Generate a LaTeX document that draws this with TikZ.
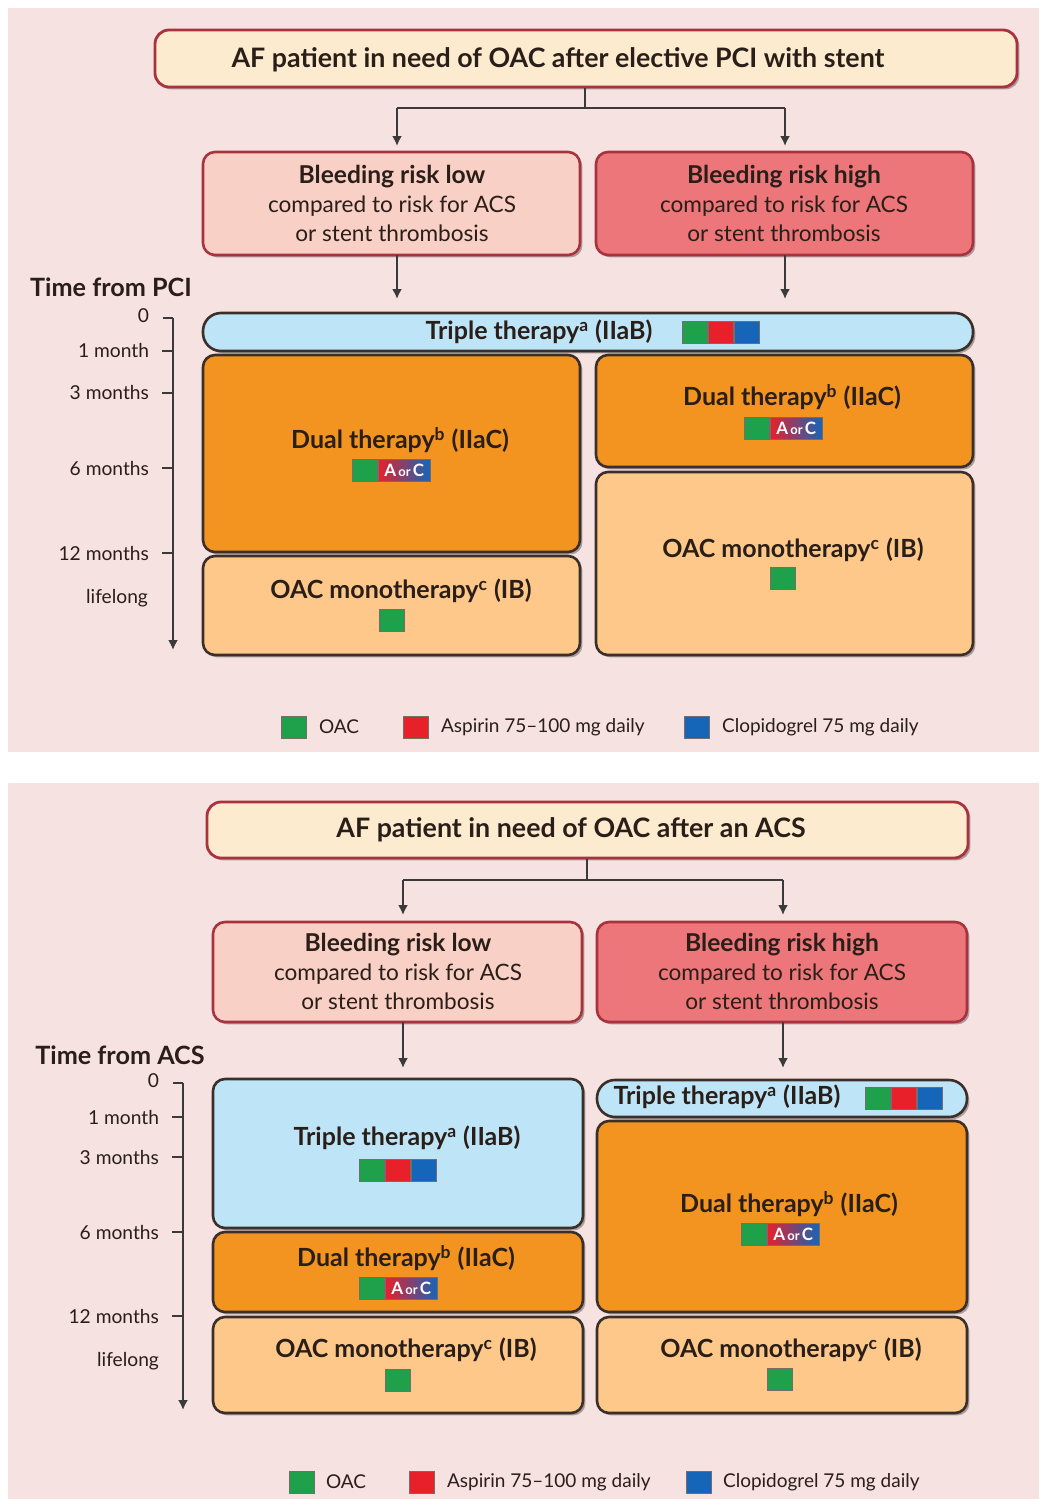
\documentclass[tikz,border=0pt]{standalone}
\usepackage{fontspec}
\setmainfont{Lato}
\usetikzlibrary{fit,arrows.meta,shadows}
\definecolor{bgpink}{HTML}{F5E2E1}
\definecolor{hdrfill}{HTML}{FDEBD0}
\definecolor{hdrline}{HTML}{A8323E}
\definecolor{lowfill}{HTML}{F9D0C5}
\definecolor{highfill}{HTML}{EC767A}
\definecolor{tripfill}{HTML}{BEE5F7}
\definecolor{dualfill}{HTML}{F39420}
\definecolor{monofill}{HTML}{FDC88A}
\definecolor{boxline}{HTML}{3B2F2A}
\definecolor{txtcol}{HTML}{2A1E18}
\definecolor{ogreen}{HTML}{1FA04A}
\definecolor{ored}{HTML}{E8202A}
\definecolor{oblue}{HTML}{1565B8}
\definecolor{conncol}{HTML}{3A3A3A}
\tikzset{
  shd/.style={drop shadow={shadow xshift=1.2pt, shadow yshift=-1.2pt, opacity=0.3, fill=black}},
  hdrbox/.style={draw=hdrline, fill=hdrfill, rounded corners=7pt, line width=1.4pt, inner sep=0pt, shd},
  riskbox/.style={draw=hdrline, rounded corners=6pt, line width=1.3pt, inner sep=0pt, shd},
  thbox/.style={draw=boxline, rounded corners=6pt, line width=1.3pt, inner sep=0pt, shd},
  hdrtxt/.style={text=txtcol, font=\bfseries\fontsize{13.4}{15}\selectfont},
  risktxt/.style={text=txtcol, align=center, font=\fontsize{11.3}{14.5}\selectfont},
  thtxt/.style={text=txtcol, font=\bfseries\fontsize{12.5}{14}\selectfont},
  axtxt/.style={text=txtcol, font=\fontsize{9.6}{11}\selectfont, anchor=east},
  timetxt/.style={text=txtcol, font=\bfseries\fontsize{12.6}{14}\selectfont},
  legtxt/.style={text=txtcol, font=\fontsize{9.5}{11}\selectfont, anchor=west},
  sq/.style={draw=boxline!70, line width=0.4pt, minimum width=12.5pt, minimum height=11pt, inner sep=0pt},
  aorc/.style={draw=boxline!70, line width=0.4pt, minimum width=26pt, minimum height=11pt, inner sep=0pt,
     left color=ored, right color=oblue, text=white, font=\bfseries\fontsize{8.5}{8.5}\selectfont},
  conn/.style={draw=conncol, line width=1pt},
  arr/.style={conn, -{Latex[length=5pt,width=5pt]}},
}
\newcommand\tripicon[3]{%
  \node[sq, fill=ored] (#1r) at (#2,#3) {};
  \node[sq, fill=ogreen, anchor=east] (#1g) at (#1r.west) {};
  \node[sq, fill=oblue, anchor=west] (#1b) at (#1r.east) {};}
\newcommand\dualicon[3]{%
  \node[sq, fill=ogreen] (#1g) at ({#2-26},#3) {};
  \node[aorc, anchor=west] (#1ac) at (#1g.east) {A{\fontsize{6.5}{6.5}\selectfont\,or\,}C};}
\newcommand\monoicon[3]{%
  \node[sq, fill=ogreen] (#1) at (#2,#3) {};}
\begin{document}
\begin{tikzpicture}[x=0.5pt, y=-0.5pt]
\useasboundingbox (0,0) rectangle (1039,1499);
\fill[white] (0,0) rectangle (1039,1499);
\fill[bgpink] (8,8) rectangle (1039,752);
\fill[bgpink] (8,783) rectangle (1039,1499);

% ================= PANEL 1 =================
\node[hdrbox, fit={(155,30) (1017,87)}] (hdr1) {};
\node[hdrtxt] (hdr1t) at (558,60) {AF patient in need of OAC after elective PCI with stent};

\node[riskbox, fill=lowfill, fit={(203,152) (580,255)}] (low1) {};
\node[riskbox, fill=highfill, fit={(596,152) (973,255)}] (high1) {};
\node[risktxt] (low1t) at (392,203) {{\bfseries\fontsize{12.3}{14.5}\selectfont Bleeding risk low}\\compared to risk for ACS\\or stent thrombosis};
\node[risktxt] (high1t) at (784,203) {{\bfseries\fontsize{12.3}{14.5}\selectfont Bleeding risk high}\\compared to risk for ACS\\or stent thrombosis};

\coordinate (j1) at (585,108);
\coordinate (j1l) at (397,108);
\coordinate (j1r) at (785,108);
\draw[conn] (hdr1.south -| j1) -- (j1);
\draw[conn] (j1l) -- (j1r);
\draw[arr] (j1l) -- (397,146);
\draw[arr] (j1r) -- (785,146);

\node[thbox, fill=tripfill, rounded corners=9pt, fit={(203,313) (973,351)}] (trip1) {};
\node[thbox, fill=dualfill, fit={(203,355) (580,552)}] (dual1l) {};
\node[thbox, fill=monofill, fit={(203,556) (580,655)}] (mono1l) {};
\node[thbox, fill=dualfill, fit={(596,355) (973,467)}] (dual1r) {};
\node[thbox, fill=monofill, fit={(596,472) (973,655)}] (mono1r) {};

\draw[arr] (397,255) -- (397,299);
\draw[arr] (785,255) -- (785,299);

\node[timetxt] (time1) at (111,287) {Time from PCI};
\draw[conn] (163,318) -- (173,318);
\draw[arr] (173,318) -- (173,650);
\foreach \yy/\lab in {351/1 month, 393/3 months, 468/6 months, 553/12 months}{
  \draw[conn] (162,\yy) -- (173,\yy);
  \node[axtxt] at (156,\yy) {\lab};
}
\node[axtxt] (zero1) at (156,316) {0};
\node[axtxt] (life1) at (155,598) {lifelong};

\node[thtxt] (trip1t) at (539,332) {Triple therapy\textsuperscript{a} (IIaB)};
\tripicon{ti1}{721}{332}
\node[thtxt] (dual1lt) at (400,440) {Dual therapy\textsuperscript{b} (IIaC)};
\dualicon{di1l}{391}{470}
\node[thtxt] (mono1lt) at (401,591) {OAC monotherapy\textsuperscript{c} (IB)};
\monoicon{mi1l}{392}{620}
\node[thtxt] (dual1rt) at (792,397) {Dual therapy\textsuperscript{b} (IIaC)};
\dualicon{di1r}{783}{428}
\node[thtxt] (mono1rt) at (793,550) {OAC monotherapy\textsuperscript{c} (IB)};
\monoicon{mi1r}{783}{578}

% legend 1
\node[sq, fill=ogreen] (lg1g) at (294,727) {};
\node[legtxt] (lg1gt) at (312,727) {OAC};
\node[sq, fill=ored] (lg1r) at (416,727) {};
\node[legtxt] (lg1rt) at (434,727) {Aspirin 75–100 mg daily};
\node[sq, fill=oblue] (lg1b) at (697,727) {};
\node[legtxt] (lg1bt) at (715,727) {Clopidogrel 75 mg daily};

% ================= PANEL 2 =================
\node[hdrbox, fit={(207,802) (968,858)}] (hdr2) {};
\node[hdrtxt] (hdr2t) at (571,830) {AF patient in need of OAC after an ACS};

\node[riskbox, fill=lowfill, fit={(213,922) (582,1022)}] (low2) {};
\node[riskbox, fill=highfill, fit={(597,922) (967,1022)}] (high2) {};
\node[risktxt] (low2t) at (398,971) {{\bfseries\fontsize{12.3}{14.5}\selectfont Bleeding risk low}\\compared to risk for ACS\\or stent thrombosis};
\node[risktxt] (high2t) at (782,971) {{\bfseries\fontsize{12.3}{14.5}\selectfont Bleeding risk high}\\compared to risk for ACS\\or stent thrombosis};

\coordinate (j2) at (587,880);
\coordinate (j2l) at (403,880);
\coordinate (j2r) at (783,880);
\draw[conn] (hdr2.south -| j2) -- (j2);
\draw[conn] (j2l) -- (j2r);
\draw[arr] (j2l) -- (403,915);
\draw[arr] (j2r) -- (783,915);

\draw[arr] (403,1022) -- (403,1068);
\draw[arr] (783,1022) -- (783,1068);

\node[thbox, fill=tripfill, fit={(213,1079) (583,1228)}] (trip2l) {};
\node[thbox, fill=dualfill, fit={(213,1232) (583,1312)}] (dual2l) {};
\node[thbox, fill=monofill, fit={(213,1317) (583,1413)}] (mono2l) {};
\node[thbox, fill=tripfill, rounded corners=9pt, fit={(597,1080) (967,1117)}] (trip2r) {};
\node[thbox, fill=dualfill, fit={(597,1121) (967,1312)}] (dual2r) {};
\node[thbox, fill=monofill, fit={(597,1317) (967,1413)}] (mono2r) {};

\node[timetxt] (time2) at (120,1055) {Time from ACS};
\draw[conn] (173,1083) -- (183,1083);
\draw[arr] (183,1083) -- (183,1410);
\foreach \yy/\lab in {1117/1 month, 1157/3 months, 1232/6 months, 1316/12 months}{
  \draw[conn] (172,\yy) -- (183,\yy);
  \node[axtxt] at (166,\yy) {\lab};
}
\node[axtxt] (zero2) at (166,1081) {0};
\node[axtxt] (life2) at (166,1361) {lifelong};

\node[thtxt] (trip2lt) at (407,1138) {Triple therapy\textsuperscript{a} (IIaB)};
\tripicon{ti2l}{398}{1170}
\node[thtxt] (dual2lt) at (406,1258) {Dual therapy\textsuperscript{b} (IIaC)};
\dualicon{di2l}{398}{1288}
\node[thtxt] (mono2lt) at (406,1350) {OAC monotherapy\textsuperscript{c} (IB)};
\monoicon{mi2l}{398}{1380}
\node[thtxt] (trip2rt) at (727,1097) {Triple therapy\textsuperscript{a} (IIaB)};
\tripicon{ti2r}{904}{1098}
\node[thtxt] (dual2rt) at (789,1204) {Dual therapy\textsuperscript{b} (IIaC)};
\dualicon{di2r}{780}{1234}
\node[thtxt] (mono2rt) at (791,1350) {OAC monotherapy\textsuperscript{c} (IB)};
\monoicon{mi2r}{780}{1379}

% legend 2
\node[sq, fill=ogreen] (lg2g) at (302,1482) {};
\node[legtxt] (lg2gt) at (319,1482) {OAC};
\node[sq, fill=ored] (lg2r) at (422,1482) {};
\node[legtxt] (lg2rt) at (440,1482) {Aspirin 75–100 mg daily};
\node[sq, fill=oblue] (lg2b) at (699,1482) {};
\node[legtxt] (lg2bt) at (716,1482) {Clopidogrel 75 mg daily};
\end{tikzpicture}
\end{document}
